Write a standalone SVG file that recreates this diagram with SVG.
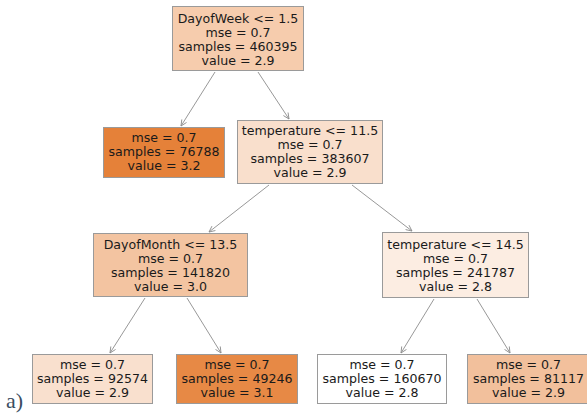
<svg xmlns="http://www.w3.org/2000/svg" width="587" height="414" viewBox="0 0 587 414">
  <defs>
    <marker id="arrow" viewBox="0 0 10 10" refX="9.5" refY="5" markerWidth="7" markerHeight="7" markerUnits="userSpaceOnUse" orient="auto">
      <path d="M1,1 L9.5,5 L1,9" fill="none" stroke="#8c8c8c" stroke-width="1.2"/>
    </marker>
    <style>
      .box { stroke: #9a9a9a; stroke-width: 1; }
      .lbl { font-family: "DejaVu Sans", Verdana, sans-serif; font-size: 12.6px; fill: #1a1a1a; text-anchor: middle; }
      .edge { stroke: #8c8c8c; stroke-width: 0.9; fill: none; marker-end: url(#arrow); }
      .tag { font-family: "Liberation Serif", "Times New Roman", serif; font-size: 22px; fill: #3b4d61; }
    </style>
  </defs>
  <rect width="587" height="414" fill="#ffffff"/>

  <!-- connectors -->
  <g id="edges">
    <line class="edge" x1="215" y1="72" x2="181" y2="126"/>
    <line class="edge" x1="258" y1="72" x2="289" y2="119"/>
    <line class="edge" x1="269" y1="185" x2="209" y2="232"/>
    <line class="edge" x1="352" y1="185" x2="412" y2="231"/>
    <line class="edge" x1="145" y1="298" x2="110" y2="353"/>
    <line class="edge" x1="187" y1="298" x2="221" y2="353"/>
    <line class="edge" x1="434" y1="299" x2="401" y2="353"/>
    <line class="edge" x1="477" y1="299" x2="510" y2="353"/>
  </g>

  <!-- root split -->
  <g id="node0">
    <rect class="box" x="172.5" y="6.5" width="131" height="64" fill="#f6ccad"/>
    <text class="lbl" x="238" y="22.5">DayofWeek &lt;= 1.5</text>
    <text class="lbl" x="238" y="36.5">mse = 0.7</text>
    <text class="lbl" x="238" y="50.5">samples = 460395</text>
    <text class="lbl" x="238" y="64.5">value = 2.9</text>
  </g>

  <g id="node1">
    <rect class="box" x="103.5" y="127.5" width="121" height="50" fill="#e58139"/>
    <text class="lbl" x="164" y="142">mse = 0.7</text>
    <text class="lbl" x="164" y="156">samples = 76788</text>
    <text class="lbl" x="164" y="170">value = 3.2</text>
  </g>

  <g id="node2">
    <rect class="box" x="237.5" y="120.5" width="145" height="63" fill="#f9dfcc"/>
    <text class="lbl" x="310" y="135">temperature &lt;= 11.5</text>
    <text class="lbl" x="310" y="149">mse = 0.7</text>
    <text class="lbl" x="310" y="163">samples = 383607</text>
    <text class="lbl" x="310" y="177">value = 2.9</text>
  </g>

  <g id="node3">
    <rect class="box" x="93.5" y="233.5" width="154" height="63" fill="#f3c4a1"/>
    <text class="lbl" x="170.5" y="248.5">DayofMonth &lt;= 13.5</text>
    <text class="lbl" x="170.5" y="262.5">mse = 0.7</text>
    <text class="lbl" x="170.5" y="276.5">samples = 141820</text>
    <text class="lbl" x="170.5" y="290.5">value = 3.0</text>
  </g>

  <g id="node4">
    <rect class="box" x="382.5" y="232.5" width="146" height="65" fill="#fcede2"/>
    <text class="lbl" x="455.5" y="248.5">temperature &lt;= 14.5</text>
    <text class="lbl" x="455.5" y="262.5">mse = 0.7</text>
    <text class="lbl" x="455.5" y="276.5">samples = 241787</text>
    <text class="lbl" x="455.5" y="290.5">value = 2.8</text>
  </g>

  <g id="node5">
    <rect class="box" x="32.5" y="354.5" width="120" height="49" fill="#f9e0ce"/>
    <text class="lbl" x="92.5" y="369">mse = 0.7</text>
    <text class="lbl" x="92.5" y="383">samples = 92574</text>
    <text class="lbl" x="92.5" y="397">value = 2.9</text>
  </g>

  <g id="node6">
    <rect class="box" x="176.5" y="354.5" width="121" height="49" fill="#e78945"/>
    <text class="lbl" x="237" y="369">mse = 0.7</text>
    <text class="lbl" x="237" y="383">samples = 49246</text>
    <text class="lbl" x="237" y="397">value = 3.1</text>
  </g>

  <g id="node7">
    <rect class="box" x="317.5" y="354.5" width="129" height="49" fill="#ffffff"/>
    <text class="lbl" x="382" y="369">mse = 0.7</text>
    <text class="lbl" x="382" y="383">samples = 160670</text>
    <text class="lbl" x="382" y="397">value = 2.8</text>
  </g>

  <g id="node8">
    <rect class="box" x="467.5" y="354.5" width="122" height="49" fill="#f2c09c"/>
    <text class="lbl" x="528.5" y="369">mse = 0.7</text>
    <text class="lbl" x="528.5" y="383">samples = 81117</text>
    <text class="lbl" x="528.5" y="397">value = 2.9</text>
  </g>

  <!-- panel tag -->
  <text class="tag" x="6" y="408">a)</text>
</svg>
